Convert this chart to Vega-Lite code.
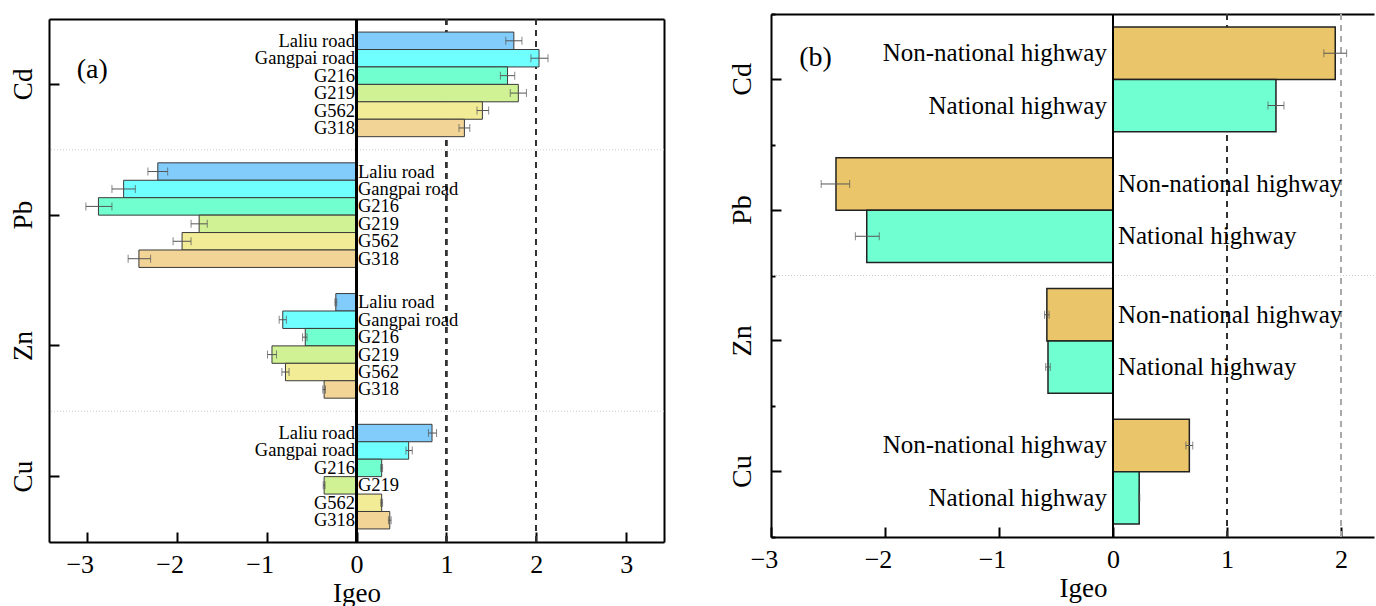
{
  "$schema": "https://vega.github.io/schema/vega-lite/v6.json",
  "padding": {"left": 0, "top": 13, "right": 0, "bottom": 0},
  "spacing": 46,
  "resolve": {"scale": {"color": "independent", "yOffset": "independent"}},
  "config": {
    "font": "Liberation Serif",
    "axis": {"labelFont": "Liberation Serif", "titleFont": "Liberation Serif", "labelColor": "black", "titleColor": "black", "domainColor": "black", "tickColor": "black", "grid": false, "titleFontWeight": "normal"},
    "text": {"font": "Liberation Serif", "color": "black"}
  },
  "datasets": {
    "a": [
      {"element": "Cd", "road": "Laliu road", "value": 1.75, "lo": 1.66, "hi": 1.84},
      {"element": "Cd", "road": "Gangpai road", "value": 2.03, "lo": 1.94, "hi": 2.13},
      {"element": "Cd", "road": "G216", "value": 1.68, "lo": 1.6, "hi": 1.76},
      {"element": "Cd", "road": "G219", "value": 1.8, "lo": 1.71, "hi": 1.89},
      {"element": "Cd", "road": "G562", "value": 1.4, "lo": 1.34, "hi": 1.47},
      {"element": "Cd", "road": "G318", "value": 1.2, "lo": 1.14, "hi": 1.26},
      {"element": "Pb", "road": "Laliu road", "value": -2.21, "lo": -2.32, "hi": -2.1},
      {"element": "Pb", "road": "Gangpai road", "value": -2.59, "lo": -2.72, "hi": -2.46},
      {"element": "Pb", "road": "G216", "value": -2.87, "lo": -3.01, "hi": -2.72},
      {"element": "Pb", "road": "G219", "value": -1.75, "lo": -1.84, "hi": -1.66},
      {"element": "Pb", "road": "G562", "value": -1.94, "lo": -2.04, "hi": -1.84},
      {"element": "Pb", "road": "G318", "value": -2.42, "lo": -2.54, "hi": -2.29},
      {"element": "Zn", "road": "Laliu road", "value": -0.23, "lo": -0.24, "hi": -0.22},
      {"element": "Zn", "road": "Gangpai road", "value": -0.82, "lo": -0.86, "hi": -0.78},
      {"element": "Zn", "road": "G216", "value": -0.57, "lo": -0.6, "hi": -0.55},
      {"element": "Zn", "road": "G219", "value": -0.94, "lo": -0.99, "hi": -0.89},
      {"element": "Zn", "road": "G562", "value": -0.79, "lo": -0.83, "hi": -0.75},
      {"element": "Zn", "road": "G318", "value": -0.36, "lo": -0.375, "hi": -0.345},
      {"element": "Cu", "road": "Laliu road", "value": 0.84, "lo": 0.8, "hi": 0.89},
      {"element": "Cu", "road": "Gangpai road", "value": 0.58, "lo": 0.55, "hi": 0.62},
      {"element": "Cu", "road": "G216", "value": 0.28, "lo": 0.27, "hi": 0.29},
      {"element": "Cu", "road": "G219", "value": -0.36, "lo": -0.37, "hi": -0.35},
      {"element": "Cu", "road": "G562", "value": 0.28, "lo": 0.27, "hi": 0.29},
      {"element": "Cu", "road": "G318", "value": 0.37, "lo": 0.355, "hi": 0.385}
    ],
    "b": [
      {"element": "Cd", "type": "Non-national highway", "value": 1.95, "lo": 1.85, "hi": 2.05},
      {"element": "Cd", "type": "National highway", "value": 1.43, "lo": 1.36, "hi": 1.5},
      {"element": "Pb", "type": "Non-national highway", "value": -2.43, "lo": -2.56, "hi": -2.31},
      {"element": "Pb", "type": "National highway", "value": -2.16, "lo": -2.26, "hi": -2.05},
      {"element": "Zn", "type": "Non-national highway", "value": -0.58, "lo": -0.6, "hi": -0.56},
      {"element": "Zn", "type": "National highway", "value": -0.57, "lo": -0.59, "hi": -0.55},
      {"element": "Cu", "type": "Non-national highway", "value": 0.67, "lo": 0.64, "hi": 0.7},
      {"element": "Cu", "type": "National highway", "value": 0.23, "lo": 0.225, "hi": 0.235}
    ]
  },
  "hconcat": [
    {
      "width": 615,
      "height": 528,
      "data": {"name": "a"},
      "view": {"stroke": null},
      "resolve": {"scale": {"y": "independent"}, "axis": {"x": "independent", "y": "independent"}},
      "layer": [
        {
          "layer": [
            {
              "mark": {"type": "rule", "color": "#333333", "strokeWidth": 1.3, "strokeDash": [6, 5]},
              "encoding": {
                "x": {"datum": 1, "axis": null},
                "y": {"datum": 0, "scale": {"domain": [0, 1], "range": [5, 528], "nice": false, "zero": false}, "axis": null},
                "y2": {"datum": 1}
              }
            },
            {
              "mark": {"type": "rule", "color": "#333333", "strokeWidth": 1.3, "strokeDash": [6, 5]},
              "encoding": {
                "x": {"datum": 2, "axis": null},
                "y": {"datum": 0, "axis": null},
                "y2": {"datum": 1}
              }
            }
          ]
        },
        {
          "resolve": {"axis": {"x": "independent", "y": "independent"}},
          "layer": [
            {
              "data": {"values": [{"sep": "Pb"}, {"sep": "Cu"}]},
              "mark": {"type": "rule", "color": "#cccccc", "strokeWidth": 1, "strokeDash": [1, 2]},
              "encoding": {
                "y": {"field": "sep", "type": "nominal", "bandPosition": 0, "scale": {"domain": ["Cd", "Pb", "Zn", "Cu"], "range": [5, 528], "paddingInner": 0, "paddingOuter": 0},
                      "axis": {"orient": "right", "title": null, "labels": false, "ticks": false, "domain": true, "domainWidth": 2, "minExtent": 0, "maxExtent": 0}}
              }
            },
            {
              "mark": {"type": "bar", "stroke": "#3a3a3a", "strokeWidth": 1},
              "encoding": {
                "y": {"field": "element", "type": "nominal", "scale": {"domain": ["Cd", "Pb", "Zn", "Cu"], "range": [5, 528], "paddingInner": 0, "paddingOuter": 0},
                      "axis": {"orient": "left", "title": null, "labelAngle": -90, "labelFontSize": 27, "tickSize": -10, "tickWidth": 2, "domain": true, "domainWidth": 2, "labelPadding": 22, "minExtent": 49, "maxExtent": 49}},
                "yOffset": {"field": "road", "type": "nominal", "scale": {"domain": ["Laliu road", "Gangpai road", "G216", "G219", "G562", "G318"], "paddingInner": 0, "paddingOuter": 0.75}},
                "x": {"field": "value", "type": "quantitative", "scale": {"domain": [-3.42, 3.42], "nice": false, "zero": false},
                      "axis": {"title": "Igeo", "values": [-3, -2, -1, 0, 1, 2, 3], "tickSize": -10, "tickWidth": 2, "domain": true, "domainWidth": 2, "labelFontSize": 26, "titleFontSize": 27, "labelPadding": 19, "titlePadding": 3, "labelFlush": false, "labelOverlap": false,
                               "labelOffset": {"condition": {"test": "datum.value < 0", "value": -7}, "value": 0}}},
                "color": {"field": "road", "type": "nominal", "scale": {"domain": ["Laliu road", "Gangpai road", "G216", "G219", "G562", "G318"], "range": ["#82CCFB", "#70FFFF", "#72FFD0", "#D0F194", "#F2EC97", "#F2D497"]}, "legend": null}
              }
            },
            {
              "mark": {"type": "rule", "color": "#555555", "strokeWidth": 1},
              "encoding": {
                "y": {"field": "element", "type": "nominal", "axis": null},
                "yOffset": {"field": "road", "type": "nominal"},
                "x": {"field": "lo", "type": "quantitative", "axis": null},
                "x2": {"field": "hi"}
              }
            },
            {
              "mark": {"type": "tick", "orient": "vertical", "color": "#555555", "size": 8, "thickness": 1},
              "encoding": {
                "y": {"field": "element", "type": "nominal", "axis": null},
                "yOffset": {"field": "road", "type": "nominal"},
                "x": {"field": "lo", "type": "quantitative", "axis": null}
              }
            },
            {
              "mark": {"type": "tick", "orient": "vertical", "color": "#555555", "size": 8, "thickness": 1},
              "encoding": {
                "y": {"field": "element", "type": "nominal", "axis": null},
                "yOffset": {"field": "road", "type": "nominal"},
                "x": {"field": "hi", "type": "quantitative", "axis": null}
              }
            },
            {
              "transform": [{"filter": "datum.value >= 0"}],
              "mark": {"type": "text", "align": "right", "baseline": "middle", "dx": -1.5, "fontSize": 18.5},
              "encoding": {
                "y": {"field": "element", "type": "nominal", "axis": null},
                "yOffset": {"field": "road", "type": "nominal"},
                "x": {"datum": 0, "axis": null},
                "text": {"field": "road"}
              }
            },
            {
              "transform": [{"filter": "datum.value < 0"}],
              "mark": {"type": "text", "align": "left", "baseline": "middle", "dx": 1.5, "fontSize": 18.5},
              "encoding": {
                "y": {"field": "element", "type": "nominal", "axis": null},
                "yOffset": {"field": "road", "type": "nominal"},
                "x": {"datum": 0, "axis": null},
                "text": {"field": "road"}
              }
            },
            {
              "data": {"values": [{"label": "(a)"}]},
              "mark": {"type": "text", "align": "center", "baseline": "middle", "fontSize": 28, "dy": -14},
              "encoding": {
                "x": {"datum": -2.94, "axis": null},
                "y": {"datum": "Cd", "axis": null},
                "text": {"field": "label"}
              }
            }
          ]
        },
        {
          "mark": {"type": "rule", "color": "black", "strokeWidth": 1.8},
          "encoding": {
            "x": {"datum": 0, "axis": {"orient": "top", "offset": -5, "labels": false, "ticks": false, "domain": true, "domainWidth": 2, "title": null, "minExtent": 0, "maxExtent": 0}},
            "y": {"datum": 0, "scale": {"domain": [0, 1], "range": [5, 528], "nice": false, "zero": false}, "axis": null},
            "y2": {"datum": 1}
          }
        }
      ]
    },
    {
      "width": 603,
      "height": 523,
      "data": {"name": "b"},
      "view": {"stroke": null},
      "resolve": {"axis": {"x": "independent", "y": "independent"}},
      "layer": [
        {
          "data": {"values": [{"sep": "Zn"}]},
          "mark": {"type": "rule", "color": "#cccccc", "strokeWidth": 1, "strokeDash": [1, 2]},
          "encoding": {
            "y": {"field": "sep", "type": "nominal", "bandPosition": 0, "scale": {"domain": ["Cd", "Pb", "Zn", "Cu"], "paddingInner": 0, "paddingOuter": 0},
                  "axis": {"orient": "left", "title": null, "labels": false, "domain": false, "tickBand": "extent", "tickSize": -4, "tickWidth": 2, "minExtent": 0, "maxExtent": 0}}
          }
        },
        {
          "mark": {"type": "rule", "color": "#333333", "strokeWidth": 1.3, "strokeDash": [6, 5]},
          "encoding": {"x": {"datum": 1, "axis": null}}
        },
        {
          "mark": {"type": "rule", "color": "#aaaaaa", "strokeWidth": 1.3, "strokeDash": [6, 5]},
          "encoding": {"x": {"datum": 2, "axis": null}}
        },
        {
          "mark": {"type": "bar", "stroke": "#222222", "strokeWidth": 1.5},
          "encoding": {
            "y": {"field": "element", "type": "nominal", "scale": {"domain": ["Cd", "Pb", "Zn", "Cu"], "paddingInner": 0, "paddingOuter": 0},
                  "axis": {"orient": "left", "title": null, "labelAngle": -90, "labelFontSize": 28, "tickSize": -10, "tickWidth": 2, "domain": true, "domainWidth": 2, "labelPadding": 25, "minExtent": 60, "maxExtent": 60}},
            "yOffset": {"field": "type", "type": "nominal", "scale": {"domain": ["Non-national highway", "National highway"], "paddingInner": 0, "paddingOuter": 0.25}},
            "x": {"field": "value", "type": "quantitative", "scale": {"domain": [-3, 2.29], "nice": false, "zero": false},
                  "axis": {"title": "Igeo", "values": [-3, -2, -1, 0, 1, 2], "tickSize": -10, "tickWidth": 2, "domain": true, "domainWidth": 2, "labelFontSize": 26, "titleFontSize": 27, "labelPadding": 19, "titlePadding": 3, "labelFlush": false, "labelOverlap": false, "titleX": 312,
                           "labelOffset": {"condition": {"test": "datum.value < 0", "value": -7}, "value": 0}}},
            "color": {"field": "type", "type": "nominal", "scale": {"domain": ["Non-national highway", "National highway"], "range": ["#EBC56A", "#70FFD0"]}, "legend": null}
          }
        },
        {
          "mark": {"type": "rule", "color": "#555555", "strokeWidth": 1},
          "encoding": {
            "y": {"field": "element", "type": "nominal", "axis": null},
            "yOffset": {"field": "type", "type": "nominal"},
            "x": {"field": "lo", "type": "quantitative", "axis": null},
            "x2": {"field": "hi"}
          }
        },
        {
          "mark": {"type": "tick", "orient": "vertical", "color": "#555555", "size": 8, "thickness": 1},
          "encoding": {
            "y": {"field": "element", "type": "nominal", "axis": null},
            "yOffset": {"field": "type", "type": "nominal"},
            "x": {"field": "lo", "type": "quantitative", "axis": null}
          }
        },
        {
          "mark": {"type": "tick", "orient": "vertical", "color": "#555555", "size": 8, "thickness": 1},
          "encoding": {
            "y": {"field": "element", "type": "nominal", "axis": null},
            "yOffset": {"field": "type", "type": "nominal"},
            "x": {"field": "hi", "type": "quantitative", "axis": null}
          }
        },
        {
          "transform": [{"filter": "datum.value >= 0"}],
          "mark": {"type": "text", "align": "right", "baseline": "middle", "dx": -6, "fontSize": 25},
          "encoding": {
            "y": {"field": "element", "type": "nominal", "axis": null},
            "yOffset": {"field": "type", "type": "nominal"},
            "x": {"datum": 0, "axis": null},
            "text": {"field": "type"}
          }
        },
        {
          "transform": [{"filter": "datum.value < 0"}],
          "mark": {"type": "text", "align": "left", "baseline": "middle", "dx": 5, "fontSize": 25},
          "encoding": {
            "y": {"field": "element", "type": "nominal", "axis": null},
            "yOffset": {"field": "type", "type": "nominal"},
            "x": {"datum": 0, "axis": null},
            "text": {"field": "type"}
          }
        },
        {
          "mark": {"type": "rule", "color": "black", "strokeWidth": 1.8},
          "encoding": {"x": {"datum": 0, "axis": {"orient": "top", "labels": false, "ticks": false, "domain": true, "domainWidth": 2, "title": null, "minExtent": 0, "maxExtent": 0}}}
        },
        {
          "data": {"values": [{"label": "(b)"}]},
          "mark": {"type": "text", "align": "center", "baseline": "middle", "fontSize": 28, "dy": -21},
          "encoding": {
            "x": {"datum": -2.61, "axis": null},
            "y": {"datum": "Cd", "axis": null},
            "text": {"field": "label"}
          }
        }
      ]
    }
  ]
}
